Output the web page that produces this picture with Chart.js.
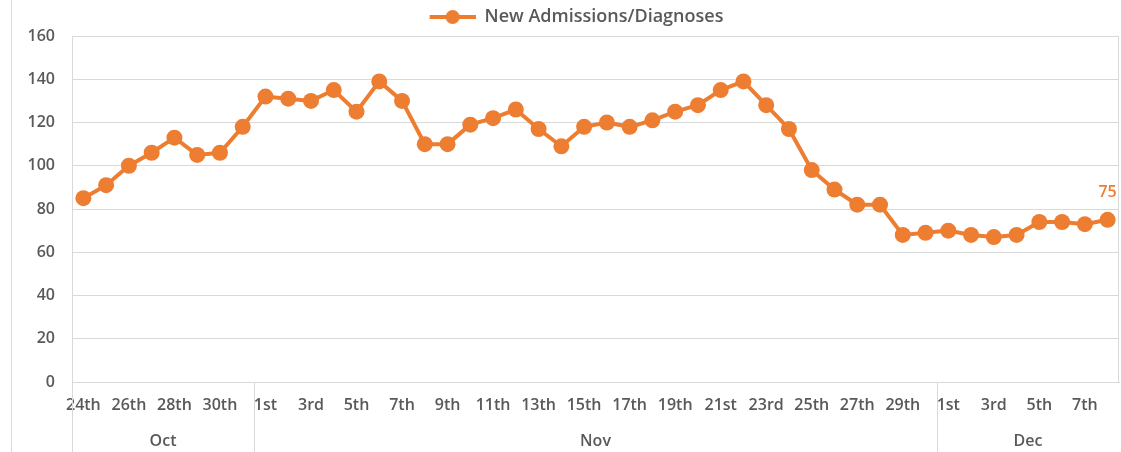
<!DOCTYPE html>
<html lang="en">
<head>
  <meta charset="UTF-8">
  <title>New Admissions/Diagnoses</title>
  <script src="https://cdn.jsdelivr.net/npm/chart.js"></script>
  <style>
    html, body { margin: 0; padding: 0; background: #fff; }
    .chart-container { width: 1121px; height: 452px; position: relative; }
  </style>
</head>
<body>
  <div class="chart-container">
    <canvas id="admissionsChart"></canvas>
  </div>

  <script>
    // day labels and the month each day belongs to
    const days = ['24th','25th','26th','27th','28th','29th','30th','31st',
      '1st','2nd','3rd','4th','5th','6th','7th','8th','9th','10th','11th','12th','13th','14th','15th',
      '16th','17th','18th','19th','20th','21st','22nd','23rd','24th','25th','26th','27th','28th','29th','30th',
      '1st','2nd','3rd','4th','5th','6th','7th','8th'];
    const monthOf = ['Oct','Oct','Oct','Oct','Oct','Oct','Oct','Oct',
      'Nov','Nov','Nov','Nov','Nov','Nov','Nov','Nov','Nov','Nov','Nov','Nov','Nov','Nov','Nov',
      'Nov','Nov','Nov','Nov','Nov','Nov','Nov','Nov','Nov','Nov','Nov','Nov','Nov','Nov','Nov',
      'Dec','Dec','Dec','Dec','Dec','Dec','Dec','Dec'];
    const admissions = [85, 91, 100, 106, 113, 105, 106, 118,
      132, 131, 130, 135, 125, 139, 130, 110, 110, 119, 122, 126, 117, 109, 118,
      120, 118, 121, 125, 128, 135, 139, 128, 117, 98, 89, 82, 82, 68, 69,
      70, 68, 67, 68, 74, 74, 73, 75];
    const yTicks = [0, 20, 40, 60, 80, 100, 120, 140, 160];

    const orange = '#ED7D31';
    const gridGray = '#d9d9d9';
    const textGray = '#595959';
    const fontFamily = '"Open Sans", Lato, sans-serif';

    // legend marker: line with a dot, with blank room on the left to push the legend right
    const legendMark = document.createElement('canvas');
    legendMark.width = 80;
    legendMark.height = 16;
    (function () {
      const c = legendMark.getContext('2d');
      c.strokeStyle = orange;
      c.lineWidth = 4;
      c.beginPath();
      c.moveTo(34, 8);
      c.lineTo(80, 8);
      c.stroke();
      c.fillStyle = orange;
      c.beginPath();
      c.arc(57, 8, 7, 0, Math.PI * 2);
      c.fill();
    })();

    // month row, separators, outer frame line and the last value label
    const extras = {
      id: 'extras',
      afterDraw(chart) {
        const ctx = chart.ctx;
        const x = chart.scales.x;
        const area = chart.chartArea;
        const H = chart.height;
        ctx.save();
        ctx.strokeStyle = gridGray;
        ctx.lineWidth = 1;

        ctx.beginPath();
        ctx.moveTo(11.5, 0);
        ctx.lineTo(11.5, H);
        ctx.stroke();

        const half = (x.getPixelForValue(1) - x.getPixelForValue(0)) / 2;
        let start = 0;
        ctx.font = '600 16px ' + fontFamily;
        ctx.fillStyle = textGray;
        ctx.textAlign = 'center';
        ctx.textBaseline = 'middle';
        for (let i = 1; i <= monthOf.length; i++) {
          if (i === monthOf.length || monthOf[i] !== monthOf[start]) {
            const left = x.getPixelForValue(start) - half;
            const right = x.getPixelForValue(i - 1) + half;
            ctx.beginPath();
            ctx.moveTo(Math.round(left) + 0.5, area.bottom);
            ctx.lineTo(Math.round(left) + 0.5, H);
            ctx.stroke();
            ctx.fillText(monthOf[start], (left + right) / 2, 441);
            start = i;
          }
        }
        ctx.beginPath();
        ctx.moveTo(Math.round(area.right) - 0.5, area.top);
        ctx.lineTo(Math.round(area.right) - 0.5, area.bottom);
        ctx.stroke();

        const meta = chart.getDatasetMeta(0);
        const last = meta.data[meta.data.length - 1];
        ctx.fillStyle = orange;
        ctx.font = '600 16px ' + fontFamily;
        ctx.fillText(admissions[admissions.length - 1], last.x, last.y - 27);
        ctx.restore();
      }
    };

    const ctx = document.getElementById('admissionsChart').getContext('2d');
    new Chart(ctx, {
      type: 'line',
      data: {
        labels: days,
        datasets: [{
          label: 'New Admissions/Diagnoses',
          data: admissions,
          borderColor: orange,
          backgroundColor: orange,
          borderWidth: 4,
          pointRadius: 8,
          pointHoverRadius: 8,
          pointBorderWidth: 0,
          tension: 0
        }]
      },
      options: {
        responsive: true,
        maintainAspectRatio: false,
        animation: false,
        layout: { autoPadding: false, padding: { left: 0, right: 2, top: 0, bottom: 0 } },
        plugins: {
          legend: {
            position: 'top',
            labels: {
              usePointStyle: true,
              pointStyleWidth: 80,
              padding: 8,
              color: textGray,
              font: { family: fontFamily, size: 18, weight: '600' },
              generateLabels(chart) {
                return [{
                  text: chart.data.datasets[0].label,
                  pointStyle: legendMark,
                  fillStyle: orange,
                  strokeStyle: orange,
                  lineWidth: 0,
                  fontColor: textGray,
                  datasetIndex: 0
                }];
              }
            }
          },
          tooltip: { enabled: false }
        },
        scales: {
          x: {
            offset: true,
            grid: { display: false, drawTicks: false },
            border: { display: true, color: gridGray },
            afterFit(scale) {
              scale.height = 70;
              scale.paddingLeft = 0;
              scale.paddingRight = 0;
            },
            ticks: {
              autoSkip: false,
              maxRotation: 0,
              padding: 14,
              color: textGray,
              font: { family: fontFamily, size: 16, weight: '600' },
              callback(val, i) { return i % 2 === 0 ? days[i] : ''; }
            }
          },
          y: {
            min: yTicks[0],
            max: yTicks[yTicks.length - 1],
            afterFit(scale) { scale.width = 72; },
            afterBuildTicks(scale) { scale.ticks = yTicks.map(v => ({ value: v })); },
            grid: { color: gridGray, lineWidth: 1, drawTicks: false },
            border: { display: true, color: gridGray },
            ticks: {
              padding: 17,
              color: textGray,
              font: { family: fontFamily, size: 16, weight: '600' }
            }
          }
        }
      },
      plugins: [extras]
    });
  </script>
</body>
</html>
